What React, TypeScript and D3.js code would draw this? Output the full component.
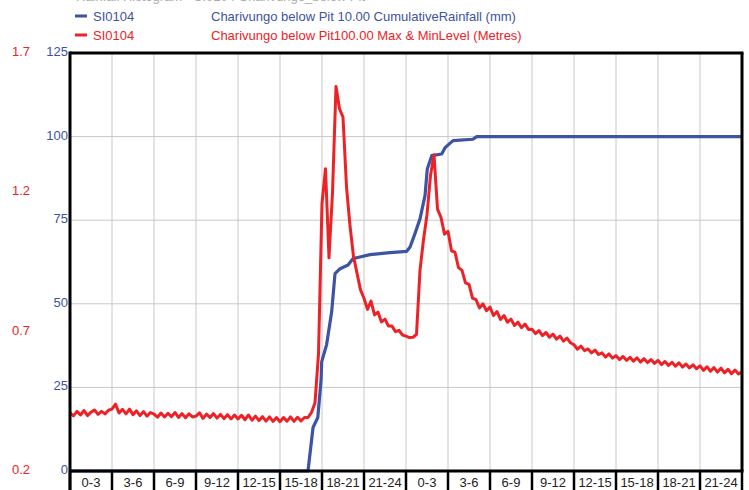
import React from "react";
import * as d3 from "d3";

// ---- data ----
const categories = [
  "0-3", "3-6", "6-9", "9-12", "12-15", "15-18", "18-21", "21-24",
  "0-3", "3-6", "6-9", "9-12", "12-15", "15-18", "18-21", "21-24",
];
const rainTicks = [0, 25, 50, 75, 100, 125];
const levelTicks = [0.2, 0.7, 1.2, 1.7];

// cumulative rainfall (mm) at hour marks
const rainHours = [0, 17.0, 17.36, 17.7, 17.93, 17.98, 18.33, 18.69, 18.93, 19.29, 19.86, 20.21, 20.71, 21.43, 22.86, 24.05, 24.29, 24.64, 25.0, 25.36, 25.52, 25.84, 26.55, 26.79, 27.36, 28.78, 29.05, 48];
const rainValues = [0, 0, 13, 16, 27, 32.7, 37.8, 47.6, 59, 60.5, 61.6, 63.5, 64, 64.7, 65.3, 65.7, 67, 71, 75.4, 82.4, 90.3, 94.3, 94.8, 96.7, 98.8, 99.2, 100, 100];

// level (metres), one reading every 15 minutes from hour 0
const levelStepHours = 0.25;
const levelValues = [
  0.409, 0.398, 0.414, 0.401, 0.417, 0.399, 0.411, 0.419, 0.403, 0.414, 0.405, 0.418,
  0.422, 0.440, 0.408, 0.421, 0.405, 0.422, 0.402, 0.416, 0.399, 0.413, 0.397, 0.410,
  0.404, 0.393, 0.408, 0.394, 0.407, 0.395, 0.410, 0.392, 0.406, 0.391, 0.405, 0.394,
  0.397, 0.409, 0.389, 0.404, 0.392, 0.406, 0.390, 0.403, 0.388, 0.402, 0.387, 0.401,
  0.387, 0.400, 0.384, 0.401, 0.382, 0.397, 0.381, 0.395, 0.379, 0.394, 0.378, 0.392,
  0.377, 0.392, 0.379, 0.394, 0.378, 0.393, 0.380, 0.392, 0.392, 0.410, 0.445, 0.620,
  1.160, 1.285, 0.965, 1.200, 1.580, 1.500, 1.470, 1.220, 1.080, 0.970, 0.910, 0.850,
  0.820, 0.780, 0.810, 0.760, 0.770, 0.735, 0.745, 0.720, 0.720, 0.700, 0.705, 0.688,
  0.684, 0.679, 0.680, 0.690, 0.920, 1.030, 1.120, 1.260, 1.335, 1.140, 1.110, 1.050,
  1.060, 0.990, 0.985, 0.930, 0.920, 0.875, 0.870, 0.820, 0.815, 0.785, 0.800, 0.775,
  0.788, 0.758, 0.772, 0.744, 0.758, 0.734, 0.745, 0.722, 0.734, 0.714, 0.727, 0.708,
  0.709, 0.693, 0.704, 0.686, 0.697, 0.680, 0.691, 0.673, 0.684, 0.666, 0.677, 0.660,
  0.653, 0.637, 0.648, 0.632, 0.638, 0.624, 0.634, 0.618, 0.624, 0.609, 0.620, 0.605,
  0.614, 0.600, 0.611, 0.597, 0.608, 0.594, 0.606, 0.591, 0.603, 0.589, 0.600, 0.586,
  0.597, 0.582, 0.593, 0.579, 0.590, 0.576, 0.588, 0.573, 0.584, 0.570, 0.581, 0.567,
  0.577, 0.561, 0.574, 0.558, 0.571, 0.555, 0.569, 0.552, 0.565, 0.549, 0.562, 0.548,
  0.556,
];

// ---- layout ----
const W = 749;
const H = 490;
const left = 70;
const right = 742;
const top = 53;
const bottom = 471;

const BLUE = "#3d53a3";
const RED = "#ec2227";
const FONT = "'Liberation Sans', Arial, sans-serif";

export default function App() {
  const x = d3.scaleLinear().domain([0, 48]).range([left, right]);
  const band = d3
    .scaleBand<number>()
    .domain(categories.map((_, i) => i))
    .range([left, right])
    .padding(0);
  const yRain = d3.scaleLinear().domain([0, 125]).range([bottom, top]);
  const yLevel = d3.scaleLinear().domain([0.2, 1.7]).range([bottom, top]);

  const rainLine = d3
    .line<number>()
    .x((_, i) => x(rainHours[i]))
    .y((d) => yRain(d));
  const levelLine = d3
    .line<number>()
    .x((_, i) => x(i * levelStepHours))
    .y((d) => yLevel(d));

  const boundaries = categories.map((_, i) => band(i) as number).concat([right]);

  return (
    <svg
      width={W}
      height={H}
      style={{ position: "absolute", left: 0, top: 0, background: "#fff" }}
      fontFamily={FONT}
    >
      <rect x={0} y={0} width={W} height={H} fill="#fff" />
      {/* cut-off title */}
      <text x={76} y={1} fontSize={13} fill="#aaa">
        Rainfall Histogram - SI0104 Charivungo_below Pit
      </text>

      {/* legend */}
      <line x1={75} x2={87} y1={16} y2={16} stroke={BLUE} strokeWidth={3} />
      <text x={93} y={20.5} fontSize={13} fill={BLUE}>SI0104</text>
      <text x={211} y={20.5} fontSize={13} fill={BLUE}>
        Charivungo below Pit 10.00  CumulativeRainfall (mm)
      </text>
      <line x1={75} x2={87} y1={35} y2={35} stroke={RED} strokeWidth={3} />
      <text x={93} y={39.5} fontSize={13} fill={RED}>SI0104</text>
      <text x={211} y={39.5} fontSize={13} fill={RED}>
        Charivungo below Pit100.00  Max &amp; MinLevel (Metres)
      </text>

      {/* gridlines */}
      {boundaries.slice(1, -1).map((bx, i) => (
        <line key={"vg" + i} x1={bx} x2={bx} y1={top} y2={bottom} stroke="#c8c8c8" strokeWidth={1} />
      ))}
      {rainTicks.slice(1, -1).map((t) => (
        <line key={"hg" + t} x1={left} x2={right} y1={yRain(t)} y2={yRain(t)} stroke="#c8c8c8" strokeWidth={1} />
      ))}

      {/* series */}
      <path d={rainLine(rainValues) || ""} fill="none" stroke={BLUE} strokeWidth={3.2} strokeLinejoin="round" />
      <path d={levelLine(levelValues) || ""} fill="none" stroke={RED} strokeWidth={3} strokeLinejoin="round" />

      {/* frame */}
      <line x1={left} x2={right + 1.5} y1={top} y2={top} stroke="#000" strokeWidth={3} />
      <line x1={right} x2={right} y1={top} y2={bottom} stroke="#000" strokeWidth={3} />
      <line x1={left} x2={left} y1={top - 1.5} y2={H} stroke="#000" strokeWidth={3} />
      <line x1={left} x2={right + 1.5} y1={bottom} y2={bottom} stroke="#000" strokeWidth={3} />

      {/* x axis boxes */}
      {boundaries.map((bx, i) => (
        <line key={"xt" + i} x1={bx} x2={bx} y1={bottom} y2={H} stroke="#000" strokeWidth={2.5} />
      ))}
      {categories.map((c, i) => (
        <text
          key={"xl" + i}
          x={(band(i) as number) + band.bandwidth() / 2}
          y={487}
          fontSize={13}
          textAnchor="middle"
          fill="#222"
        >
          {c}
        </text>
      ))}

      {/* y axes */}
      {rainTicks.map((t) => (
        <text key={"ry" + t} x={68} y={yRain(t) + 3} fontSize={13} textAnchor="end" fill={BLUE}>
          {t}
        </text>
      ))}
      {levelTicks.map((t) => (
        <text key={"ly" + t} x={30} y={yLevel(t) + 3} fontSize={13} textAnchor="end" fill={RED}>
          {t.toFixed(1)}
        </text>
      ))}
    </svg>
  );
}
